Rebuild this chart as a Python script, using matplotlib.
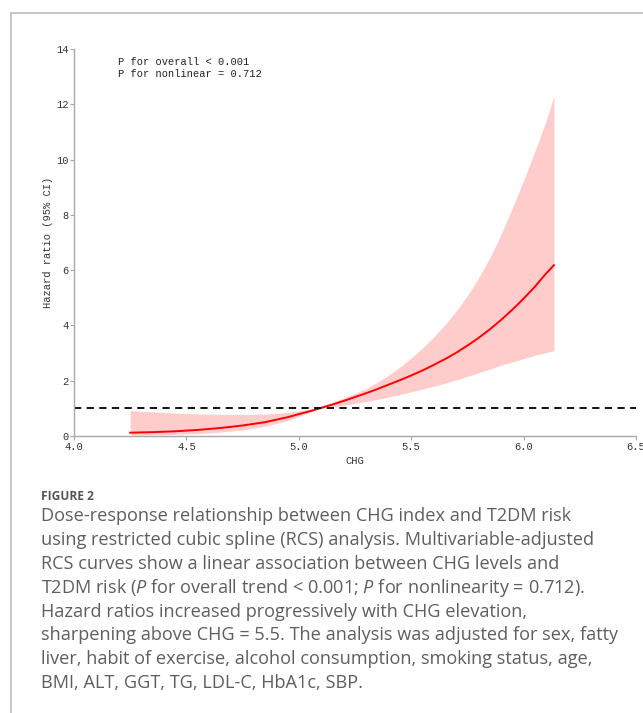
import matplotlib
matplotlib.use("Agg")
import matplotlib.pyplot as plt
from matplotlib.lines import Line2D

# ---- data ----
chg = [4.25, 4.35, 4.45, 4.55, 4.65, 4.75, 4.85, 4.95, 5.05,
       5.10, 5.15, 5.20, 5.25, 5.30, 5.35, 5.40, 5.45, 5.50, 5.55,
       5.60, 5.65, 5.70, 5.75, 5.80, 5.85, 5.90, 5.95, 6.00, 6.05,
       6.10, 6.135]
hr = [0.12, 0.14, 0.17, 0.22, 0.29, 0.38, 0.50, 0.68, 0.90,
      1.02, 1.14, 1.27, 1.41, 1.55, 1.70, 1.86, 2.02, 2.19, 2.37,
      2.57, 2.78, 3.01, 3.27, 3.55, 3.86, 4.20, 4.57, 4.97, 5.40,
      5.88, 6.18]
lower = [0.03, 0.04, 0.06, 0.09, 0.14, 0.22, 0.35, 0.56, 0.86,
         0.99, 1.05, 1.11, 1.18, 1.25, 1.33, 1.41, 1.50, 1.60, 1.70,
         1.80, 1.91, 2.03, 2.16, 2.29, 2.42, 2.56, 2.68, 2.80, 2.92,
         3.02, 3.08]
upper = [0.92, 0.87, 0.83, 0.80, 0.78, 0.78, 0.79, 0.85, 0.96,
         1.08, 1.22, 1.38, 1.54, 1.72, 1.95, 2.20, 2.50, 2.82, 3.18,
         3.58, 4.02, 4.52, 5.08, 5.72, 6.45, 7.30, 8.25, 9.25, 10.30,
         11.40, 12.30]
ref_hr = 1.0
x_ticks = [4.0, 4.5, 5.0, 5.5, 6.0, 6.5]
y_ticks = [0, 2, 4, 6, 8, 10, 12, 14]
annot = "P for overall < 0.001\nP for nonlinear = 0.712"
caption_title = "FIGURE 2"
caption_lines = [
    "Dose-response relationship between CHG index and T2DM risk",
    "using restricted cubic spline (RCS) analysis. Multivariable-adjusted",
    "RCS curves show a linear association between CHG levels and",
    "T2DM risk ($\\mathit{P}$ for overall trend < 0.001; $\\mathit{P}$ for nonlinearity = 0.712).",
    "Hazard ratios increased progressively with CHG elevation,",
    "sharpening above CHG = 5.5. The analysis was adjusted for sex, fatty",
    "liver, habit of exercise, alcohol consumption, smoking status, age,",
    "BMI, ALT, GGT, TG, LDL-C, HbA1c, SBP.",
]

cap_font = "Open Sans"
plt.rcParams["mathtext.fontset"] = "custom"
plt.rcParams["mathtext.rm"] = cap_font
plt.rcParams["mathtext.it"] = cap_font + ":italic"

W, H = 643, 713
fig = plt.figure(figsize=(W / 100, H / 100), dpi=100)
fig.patch.set_facecolor("white")

# frame lines of the figure panel
border = "#bdbdbd"
fig.add_artist(Line2D([11 / W, 1], [1 - 13 / H, 1 - 13 / H], color=border, lw=1.2))
fig.add_artist(Line2D([11 / W, 11 / W], [0, 1 - 13 / H], color=border, lw=1.2))

ax_l, ax_r, ax_t, ax_b = 74, 636, 49, 436
ax = fig.add_axes([ax_l / W, 1 - ax_b / H, (ax_r - ax_l) / W, (ax_b - ax_t) / H])

mono = "Liberation Mono"
ax.fill_between(chg, lower, upper, color="#ffcccc", lw=0)
ax.plot(chg, hr, color="#ff0000", lw=1.4)
ax.axhline(ref_hr, color="black", lw=1.3, ls=(0, (4, 3)))

ax.set_xlim(4.0, 6.5)
ax.set_ylim(0, 14)
ax.set_xticks(x_ticks)
ax.set_xticklabels([f"{v:.1f}" for v in x_ticks])
ax.set_yticks(y_ticks)
ax.set_yticklabels([str(v) for v in y_ticks])

for s in ["top", "right"]:
    ax.spines[s].set_visible(False)
for s in ["left", "bottom"]:
    ax.spines[s].set_color("#a8a8a8")
    ax.spines[s].set_linewidth(1.0)
ax.tick_params(axis="both", colors="#a8a8a8", labelcolor="#333333",
               labelsize=7.5, length=3, width=0.8, pad=1)
for lab in ax.get_xticklabels() + ax.get_yticklabels():
    lab.set_fontfamily(mono)

ax.set_xlabel("CHG", fontfamily=mono, fontsize=7.5, color="#333333", labelpad=3.5)
ax.set_ylabel("Hazard ratio (95% CI)", fontfamily=mono, fontsize=7.5,
              color="#333333", labelpad=2)
ax.text(0.078, 0.98, annot, transform=ax.transAxes, fontfamily=mono,
        fontsize=7.5, color="#222222", va="top", ha="left", linespacing=1.25)

# caption
fig.text(41 / W, 1 - 500 / H, caption_title, fontfamily=cap_font,
         fontsize=8.6, fontweight="bold", color="#555555", va="baseline")
for i, line in enumerate(caption_lines):
    fig.text(41 / W, 1 - (521 + 23.9 * i) / H, line, fontfamily=cap_font,
             fontsize=13.1, color="#5e5e5e", va="baseline")

fig.savefig("out.png", dpi=100, facecolor="white")
